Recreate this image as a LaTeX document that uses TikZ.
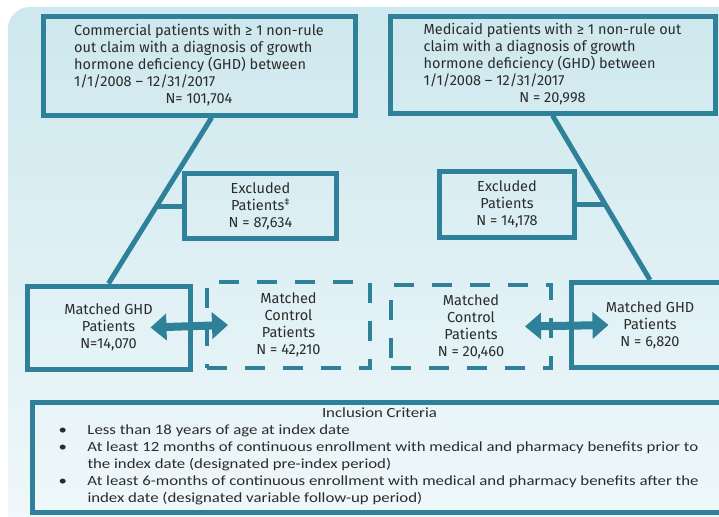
\documentclass[tikz,border=0pt]{standalone}
\usepackage{fontspec}
\setmainfont{Fira Sans}
\newfontfamily\critfont[FakeStretch=1.2]{Carlito}
\usetikzlibrary{calc,arrows.meta}
\definecolor{ghdteal}{HTML}{2E8199}
\definecolor{bgtop}{HTML}{CDE8EE}
\definecolor{bgbottom}{HTML}{F2F9FB}
\definecolor{inktext}{HTML}{2B2B2B}
\newcommand{\framecolor}{ghdteal}
\newcommand{\framewidth}{5pt}
\newcommand{\boxfont}{\fontsize{14.5}{17}\selectfont}

\begin{document}
\begin{tikzpicture}[x=1pt,y=-1pt,
  every node/.style={text=inktext,font=\boxfont},
  solidbox/.style={draw=\framecolor,line width=\framewidth,align=center,inner sep=0pt},
  dashbox/.style={draw=\framecolor,line width=4pt,dash pattern=on 20pt off 18pt,align=center,inner sep=0pt},
  link/.style={draw=\framecolor,line width=\framewidth},
  both/.style={draw=\framecolor,line width=8pt,{Triangle[width=26pt,length=16pt]}-{Triangle[width=26pt,length=16pt]}}]
\useasboundingbox (0,0) rectangle (719,516);
\shade[top color=bgtop,bottom color=bgbottom,rounded corners=22pt] (8,7) rectangle (760,560);
%sources
\node[solidbox,minimum width=312pt,minimum height=98pt] (1) at (199,66) {\begin{tabular}{@{}l@{}}Commercial patients with ≥ 1 non-rule\\out claim with a diagnosis of growth\\hormone deficiency (GHD) between\\1/1/2008 -- 12/31/2017\\\multicolumn{1}{@{}c@{}}{N= 101,704}\end{tabular}};
\node[solidbox,minimum width=325pt,minimum height=96pt] (2) at (552.5,65) {\begin{tabular}{@{}l@{}}Medicaid patients with ≥ 1 non-rule out\\claim with a diagnosis of growth\\hormone deficiency (GHD) between\\1/1/2008 -- 12/31/2017\\\multicolumn{1}{@{}c@{}}{N = 20,998}\end{tabular}};
%excluded
\node[solidbox,minimum width=152pt,minimum height=65pt] (3) at (260.5,206) {Excluded\\Patients\textsuperscript{‡}\\N = 87,634};
\node[solidbox,minimum width=135pt,minimum height=66pt] (4) at (507,204.5) {Excluded\\Patients\\N = 14,178};
%matched
\node[solidbox,minimum width=163pt,minimum height=83pt] (5) at (108.5,327.5) {Matched GHD\\Patients\\N=14,070};
\node[dashbox,minimum width=163pt,minimum height=86pt] (6) at (288.5,325) {Matched\\Control\\Patients\\N = 42,210};
\node[dashbox,minimum width=160pt,minimum height=83pt] (7) at (471,326.5) {Matched\\Control\\Patients\\N = 20,460};
\node[solidbox,minimum width=158pt,minimum height=85pt] (8) at (650,325) {Matched GHD\\Patients\\N = 6,820};
%criteria
\node[solidbox,minimum width=695pt,minimum height=110pt,anchor=north west,font=\critfont\fontsize{14}{17}\selectfont] (9) at (29.5,399.5) {\begin{tabular}{@{}p{29pt}@{}p{613pt}@{}}
\multicolumn{2}{c}{Inclusion Criteria}\\
\textbullet & Less than 18 years of age at index date\\
\textbullet & At least 12 months of continuous enrollment with medical and pharmacy benefits prior to\newline the index date (designated pre-index period)\\
\textbullet & At least 6-months of continuous enrollment with medical and pharmacy benefits after the\newline index date (designated variable follow-up period)
\end{tabular}};
%links
\coordinate (c1) at ($(1.south west)!0.54!(1.south east)$);
\draw[link] (c1) -- (5.north) coordinate[pos=0.533] (j1);
\draw[link] (j1 |- 3.west) -- (3.west);
\draw[link] (2.south) -- (8.north) coordinate[pos=0.54] (j2);
\draw[link] (j2 |- 4.east) -- (4.east);
\draw[both] ($(5.east)+(-42,0)$) -- ($(6.west)+(23,0)$);
\draw[both] ($(7.east)+(-28,0)$) -- ($(8.west)+(40,0)$);
\end{tikzpicture}
\end{document}
